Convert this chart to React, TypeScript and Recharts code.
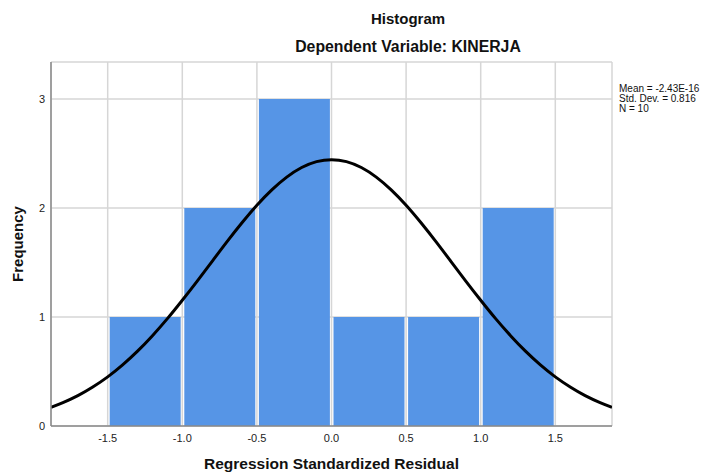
import { ComposedChart, Bar, Line, XAxis, YAxis, CartesianGrid, Label } from 'recharts';

// histogram bins (width 0.5)
const binCenters = [-1.25, -0.75, -0.25, 0.25, 0.75, 1.25];
const binCounts = [1, 2, 3, 1, 1, 2];

// normal curve
const curveX = [
  -1.88, -1.8, -1.7, -1.6, -1.5, -1.4, -1.3, -1.2, -1.1, -1.0, -0.9, -0.8, -0.7, -0.6, -0.5, -0.4, -0.3, -0.2, -0.1,
  0.0, 0.1, 0.2, 0.3, 0.4, 0.5, 0.6, 0.7, 0.8, 0.9, 1.0, 1.1, 1.2, 1.3, 1.4, 1.5, 1.6, 1.7, 1.8, 1.88,
];
const curveY = [
  0.172, 0.215, 0.279, 0.358, 0.451, 0.561, 0.687, 0.829, 0.985, 1.154, 1.33, 1.511, 1.692, 1.865, 2.026, 2.167,
  2.284, 2.372, 2.426, 2.444, 2.426, 2.372, 2.284, 2.167, 2.026, 1.865, 1.692, 1.511, 1.33, 1.154, 0.985, 0.829,
  0.687, 0.561, 0.451, 0.358, 0.279, 0.215, 0.172,
];

const xTicks = [-1.5, -1.0, -0.5, 0.0, 0.5, 1.0, 1.5];
const yTicks = [0, 1, 2, 3];
const statsLines = ['Mean = -2.43E-16', 'Std. Dev. = 0.816', 'N = 10'];

const X_DOMAIN: [number, number] = [-1.88, 1.88];
const Y_DOMAIN: [number, number] = [0, 3.34];

const FONT = '"Liberation Sans", Arial, sans-serif';

export default function App() {
  const bins = binCenters.map((x, i) => ({ x, count: binCounts[i] }));
  const curve = curveX.map((x, i) => ({ x, y: curveY[i] }));

  return (
    <div style={{ position: 'absolute', left: 0, top: 0, width: 703, height: 472, background: '#fff', fontFamily: FONT }}>
      <div style={{ position: 'absolute', left: 258, width: 300, top: 10, textAlign: 'center', fontSize: 15, fontWeight: 'bold', color: '#111' }}>
        Histogram
      </div>
      <div style={{ position: 'absolute', left: 258, width: 300, top: 38, textAlign: 'center', fontSize: 15.8, fontWeight: 'bold', color: '#111' }}>
        Dependent Variable: KINERJA
      </div>
      <div style={{ position: 'absolute', left: 619, top: 84, fontSize: 10, lineHeight: '10px', color: '#111' }}>
        {statsLines.map((s) => (
          <div key={s}>{s}</div>
        ))}
      </div>

      <ComposedChart
        width={703}
        height={472}
        data={bins}
        margin={{ top: 62, right: 91, left: 11, bottom: 0 }}
        barCategoryGap={2}
      >
        <CartesianGrid stroke="#d6d6d6" strokeWidth={1.5} />
        <XAxis
          dataKey="x"
          type="number"
          domain={X_DOMAIN}
          ticks={xTicks}
          allowDataOverflow
          tickFormatter={(v: number) => v.toFixed(1)}
          tickLine={false}
          axisLine={{ stroke: '#8a8a8a', strokeWidth: 1.5 }}
          tick={{ fontSize: 11, fill: '#222', fontFamily: FONT }}
          height={46}
        >
          <Label
            value="Regression Standardized Residual"
            position="insideBottom"
            offset={3}
            style={{ fontSize: 15.5, fontWeight: 'bold', fill: '#111', fontFamily: FONT }}
          />
        </XAxis>
        <XAxis xAxisId="curve" dataKey="x" type="number" domain={X_DOMAIN} allowDataOverflow hide />
        <YAxis
          type="number"
          domain={Y_DOMAIN}
          ticks={yTicks}
          allowDataOverflow
          tickLine={false}
          tickSize={4}
          axisLine={{ stroke: '#8a8a8a', strokeWidth: 1.5 }}
          tick={{ fontSize: 11, fill: '#222', fontFamily: FONT }}
          width={40}
        >
          <Label
            value="Frequency"
            position="insideLeft"
            angle={-90}
            offset={7}
            style={{ fontSize: 15, fontWeight: 'bold', fill: '#111', fontFamily: FONT, textAnchor: 'middle' }}
          />
        </YAxis>
        <Bar dataKey="count" fill="#5695e6" isAnimationActive={false} />
        <Line
          xAxisId="curve"
          data={curve}
          dataKey="y"
          type="natural"
          stroke="#000"
          strokeWidth={3}
          dot={false}
          activeDot={false}
          isAnimationActive={false}
        />
      </ComposedChart>
    </div>
  );
}
